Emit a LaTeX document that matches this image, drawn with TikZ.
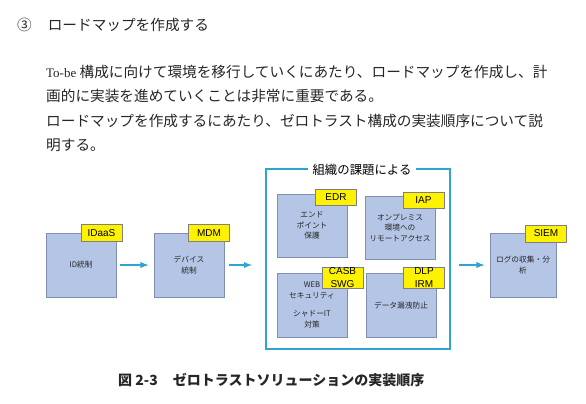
\documentclass[tikz,border=0pt]{standalone}
\usepackage{fontspec}
\setmainfont{Liberation Serif}
\newfontfamily\jpfont{Noto Sans CJK JP}
\newfontfamily\tagfont{Liberation Sans}
\definecolor{boxfill}{HTML}{B4C5E6}
\definecolor{boxline}{HTML}{7F8FAF}
\definecolor{linkblue}{HTML}{2FA3D3}
\definecolor{tagline}{HTML}{7F7F7F}

\begin{document}
\begin{tikzpicture}[x=1pt,y=-1pt,
    box/.style={draw=boxline,fill=boxfill,line width=0.8pt,minimum width=70pt,minimum height=63pt,
      inner sep=0pt,align=center,text=black!85,font=\jpfont\fontsize{7.7}{10.5}\selectfont},
    tag/.style={draw=tagline,fill=yellow,line width=0.8pt,minimum width=41pt,minimum height=17pt,
      inner sep=0pt,align=center,font=\tagfont\fontsize{10}{12.8}\selectfont},
    link/.style={linkblue,line width=1.8pt,-latex},
    txt/.style={anchor=base west,inner sep=0pt,text=black!85,font=\jpfont\fontsize{14.65}{24.4}\selectfont}]
            \useasboundingbox (0,0) rectangle (586,404);

            % heading and text
            \node[txt] (head) at (17,30.5) {③\hspace{16pt}ロードマップを作成する};
            \node[txt] (line1) at (46,77.5) {{\rmfamily\fontsize{13}{13}\selectfont To-be} 構成に向けて環境を移行していくにあたり、ロードマップを作成し、計};
            \node[txt] (line2) at (46,101.9) {画的に実装を進めていくことは非常に重要である。};
            \node[txt] (line3) at (46,126.3) {ロードマップを作成するにあたり、ゼロトラスト構成の実装順序について説};
            \node[txt] (line4) at (46,150.7) {明する。};

            % frame
            \node[draw=linkblue,line width=2pt,minimum width=184pt,minimum height=180pt] (frame) at (358,259) {};
            \node[fill=white,inner xsep=5pt,inner ysep=4pt,font=\jpfont\fontsize{12.4}{14}\selectfont] (issue) at (362,170) {組織の課題による};

            \node[box,minimum height=64pt] (idaas) at (81,265) {ID統制};
            \node[box,minimum height=64pt] (mdm) at (189,265) {デバイス\\統制};
            \node[box] (edr) at (312,225.5) {エンド\\ポイント\\保護};
            \node[box] (iap) at (400,227.5) {オンプレミス\\環境への\\リモートアクセス};
            \node[box,minimum height=64pt] (casb) at (312,305) {WEB\\セキュリティ\\[8pt]シャドーIT\\対策};
            \node[box,minimum height=64pt] (dlp) at (401,305.5) {データ漏洩防止};
            \node[box,minimum width=66pt,minimum height=64pt] (siem) at (523,265) {ログの収集・分\\析};

            \node[tag] (idaasTag) at (101.5,233) {IDaaS};
            \node[tag] (mdmTag) at (209,233) {MDM};
            \node[tag,minimum height=16pt] (edrTag) at (336,197) {EDR};
            \node[tag,minimum height=16pt] (iapTag) at (423.5,200) {IAP};
            \node[tag,minimum height=21pt] (casbTag) at (342.5,277.5) {CASB\\SWG};
            \node[tag,minimum height=21pt] (dlpTag) at (424,277.5) {DLP\\IRM};
            \node[tag] (siemTag) at (546,233.5) {SIEM};

            \draw[link,shorten <=4pt,shorten >=5pt] (idaas) -- (mdm);
            \draw[link,shorten <=5pt,shorten >=13pt] (mdm.east) -- (mdm.east -| frame.west);
            \draw[link,shorten <=8pt,shorten >=5pt] (siem.west -| frame.east) -- (siem.west);

            \node[txt,font=\jpfont\bfseries\fontsize{14}{16}\selectfont] (caption) at (118,385.5) {図 2-3\hspace{15pt}ゼロトラストソリューションの実装順序};
        \end{tikzpicture}
\end{document}
